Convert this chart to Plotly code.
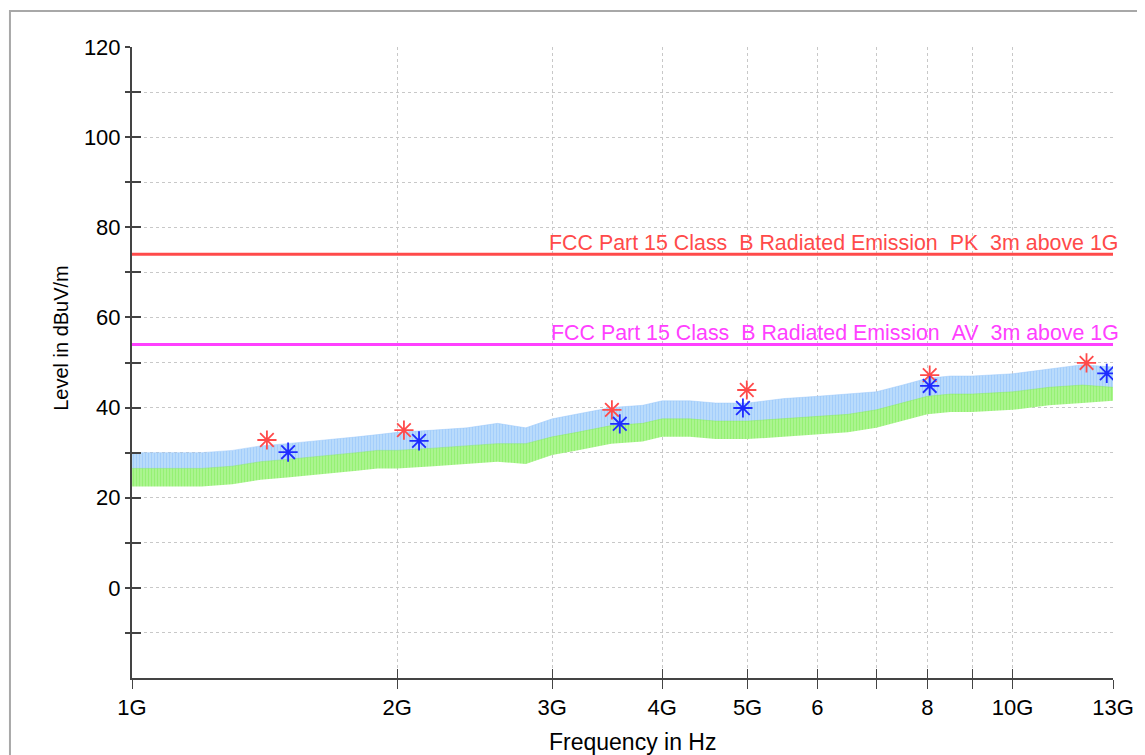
import math
import plotly.graph_objects as go

# ---------------- data (frequencies in GHz, levels in dBuV/m) ----------------
env_freq = [1.0, 1.1, 1.2, 1.3, 1.4, 1.5, 1.6, 1.7, 1.8, 1.9, 2.0, 2.2, 2.4, 2.6, 2.8,
            3.0, 3.2, 3.5, 3.8, 4.0, 4.3, 4.6, 5.0, 5.5, 6.0, 6.5, 7.0, 7.5, 8.0, 8.5,
            9.0, 10.0, 11.0, 12.0, 13.0]
pk_upper = [30.0, 30.0, 30.0, 30.5, 31.5, 32.0, 32.5, 33.0, 33.5, 34.0, 34.5, 35.0, 35.5, 36.5, 35.5,
            37.5, 38.5, 40.0, 40.5, 41.5, 41.5, 41.0, 41.0, 42.0, 42.5, 43.0, 43.5, 45.0, 46.5, 47.0,
            47.0, 47.5, 48.5, 49.5, 49.0]
pk_lower = [24.5, 24.5, 24.5, 25.0, 26.0, 26.5, 27.0, 27.5, 28.0, 28.5, 28.5, 29.0, 29.5, 30.0, 29.5,
            31.5, 32.5, 34.0, 34.5, 35.5, 35.5, 35.0, 35.0, 35.5, 36.0, 36.5, 37.5, 39.0, 40.5, 41.0,
            41.0, 41.5, 42.5, 43.0, 43.5]
av_upper = [26.5, 26.5, 26.5, 27.0, 28.0, 28.5, 29.0, 29.5, 30.0, 30.5, 30.5, 31.0, 31.5, 32.0, 32.0,
            33.5, 34.5, 36.0, 36.5, 37.5, 37.5, 37.0, 37.0, 37.5, 38.0, 38.5, 39.5, 41.0, 42.5, 43.0,
            43.0, 43.5, 44.5, 45.0, 44.5]
av_lower = [22.5, 22.5, 22.5, 23.0, 24.0, 24.5, 25.0, 25.5, 26.0, 26.5, 26.5, 27.0, 27.5, 28.0, 27.5,
            29.5, 30.5, 32.0, 32.5, 33.5, 33.5, 33.0, 33.0, 33.5, 34.0, 34.5, 35.5, 37.0, 38.5, 39.0,
            39.0, 39.5, 40.5, 41.0, 41.5]

pk_mark_freq = [1.423, 2.036, 3.507, 4.99, 8.05, 12.13]
pk_mark_level = [32.8, 35.0, 39.5, 43.9, 47.2, 49.9]
av_mark_freq = [1.504, 2.118, 3.58, 4.94, 8.05, 12.79]
av_mark_level = [30.1, 32.6, 36.4, 39.9, 44.8, 47.6]

limit_freq = [1.0, 13.0]
limit_pk = [74.0, 74.0]
limit_av = [54.0, 54.0]
limit_pk_name = "FCC Part 15 Class_B Radiated Emission_PK_3m above 1G"
limit_av_name = "FCC Part 15 Class_B Radiated Emission_AV_3m above 1G"

x_tick_vals = [1, 2, 3, 4, 5, 6, 7, 8, 9, 10, 13]
x_tick_text = ["1G", "2G", "3G", "4G", "5G", "6", "", "8", "", "10G", "13G"]
y_tick_vals = [0, 20, 40, 60, 80, 100, 120]
y_minor_vals = [-10, 0, 10, 20, 30, 40, 50, 60, 70, 80, 90, 100, 110, 120]

# ---------------- styling ----------------
FONT = "Liberation Sans, Arial, sans-serif"
GRID = "#c8c8c8"
AXIS = "#444444"
PK_BAND = "rgba(150,198,250,0.9)"
AV_BAND = "rgba(135,235,95,0.9)"
RED = "#ff4a4a"
MAG = "#ff40ff"
BLUE = "#1e2cff"

fig = go.Figure()

# Peak trace band
fig.add_trace(go.Scatter(x=env_freq, y=pk_lower, mode="lines", line=dict(width=0),
                         hoverinfo="skip", showlegend=False))
fig.add_trace(go.Scatter(x=env_freq, y=pk_upper, mode="lines", line=dict(width=0.5, color=PK_BAND),
                         fill="tonexty", fillcolor=PK_BAND,
                         fillpattern=dict(shape="|", fgcolor="rgb(135,190,250)",
                                          bgcolor="rgb(192,223,252)", size=3, solidity=0.5),
                         showlegend=False, name="Peak"))
# Average trace band
fig.add_trace(go.Scatter(x=env_freq, y=av_lower, mode="lines", line=dict(width=0),
                         hoverinfo="skip", showlegend=False))
fig.add_trace(go.Scatter(x=env_freq, y=av_upper, mode="lines", line=dict(width=0.5, color=AV_BAND),
                         fill="tonexty", fillcolor=AV_BAND,
                         fillpattern=dict(shape="|", fgcolor="rgb(120,235,80)",
                                          bgcolor="rgb(178,246,152)", size=3, solidity=0.5),
                         showlegend=False, name="Average"))

# Limit lines
fig.add_trace(go.Scatter(x=limit_freq, y=limit_pk, mode="lines", line=dict(color=RED, width=3),
                         showlegend=False, name=limit_pk_name))
fig.add_trace(go.Scatter(x=limit_freq, y=limit_av, mode="lines", line=dict(color=MAG, width=3),
                         showlegend=False, name=limit_av_name))

# Markers
fig.add_trace(go.Scatter(x=pk_mark_freq, y=pk_mark_level, mode="markers",
                         marker=dict(symbol="asterisk-open", size=16, color=RED,
                                     line=dict(color=RED, width=1.8)),
                         showlegend=False, name="Peak markers"))
fig.add_trace(go.Scatter(x=av_mark_freq, y=av_mark_level, mode="markers",
                         marker=dict(symbol="asterisk-open", size=16, color=BLUE,
                                     line=dict(color=BLUE, width=1.8)),
                         showlegend=False, name="Average markers"))

# Limit labels (annotation x on a log axis is given in log10 units)
fig.add_annotation(x=math.log10(limit_freq[-1]), y=limit_pk[-1], xref="x", yref="y",
                   text=limit_pk_name, showarrow=False, xanchor="right", yanchor="bottom",
                   xshift=8, yshift=-3, font=dict(family=FONT, size=21.4, color=RED))
fig.add_annotation(x=math.log10(limit_freq[-1]), y=limit_av[-1], xref="x", yref="y",
                   text=limit_av_name, showarrow=False, xanchor="right", yanchor="bottom",
                   xshift=8, yshift=-3, font=dict(family=FONT, size=21.4, color=MAG))

# Axis titles
fig.add_annotation(x=0.5107, y=-0.102, xref="paper", yref="paper", text="Frequency in Hz",
                   showarrow=False, xanchor="center", yanchor="middle",
                   font=dict(family=FONT, size=23, color="#000"))
fig.add_annotation(x=-0.0724, y=0.539, xref="paper", yref="paper", text="Level in dBuV/m",
                   showarrow=False, textangle=-90, xanchor="center", yanchor="middle",
                   font=dict(family=FONT, size=20, color="#000"))

xrange = [math.log10(1.0), math.log10(13.0)]
yrange = [-20, 120]

fig.update_layout(
    width=1137, height=747,
    margin=dict(l=124, r=32, t=39, b=77),
    paper_bgcolor="white", plot_bgcolor="white",
    font=dict(family=FONT, size=20, color="#000"),
    xaxis=dict(type="log", range=xrange, tickvals=x_tick_vals, ticktext=x_tick_text,
               showgrid=True, gridcolor=GRID, griddash="dot", gridwidth=1,
               showline=True, linecolor=AXIS, linewidth=2,
               ticks="outside", ticklen=9, tickwidth=1, tickcolor=AXIS,
               tickfont=dict(family=FONT, size=22, color="#000"), zeroline=False),
    yaxis=dict(range=yrange, tickvals=y_tick_vals,
               showgrid=True, gridcolor=GRID, griddash="dot", gridwidth=1,
               showline=True, linecolor=AXIS, linewidth=2,
               ticks="outside", ticklen=5, tickwidth=1.5, tickcolor=AXIS,
               tickfont=dict(family=FONT, size=22, color="#000"), zeroline=False,
               minor=dict(tickvals=y_minor_vals, ticks="outside", ticklen=5, tickcolor=AXIS,
                          showgrid=True, gridcolor=GRID, griddash="dot", gridwidth=1)),
    xaxis2=dict(type="log", range=xrange, overlaying="x", side="bottom", anchor="y",
                tickvals=x_tick_vals, showticklabels=False, ticks="inside", ticklen=9,
                tickwidth=1, tickcolor=AXIS, showgrid=False, showline=False, zeroline=False),
    yaxis2=dict(range=yrange, overlaying="y", side="left", anchor="x",
                tickvals=y_minor_vals, showticklabels=False, ticks="inside", ticklen=9,
                tickwidth=1.5, tickcolor=AXIS, showgrid=False, showline=False, zeroline=False),
    showlegend=False,
)

# dummy trace so the overlay axes are drawn
fig.add_trace(go.Scatter(x=[1.0], y=[-30], xaxis="x2", yaxis="y2", mode="markers",
                         marker=dict(opacity=0), hoverinfo="skip", showlegend=False))

# outer frame of the chart window
fig.add_shape(type="rect", xref="paper", yref="paper", x0=-0.1244, y0=-0.3, x1=1.2, y1=1.057,
              line=dict(color="#a8a8a8", width=2), fillcolor="rgba(0,0,0,0)", layer="below")

fig.write_html("out.html")
